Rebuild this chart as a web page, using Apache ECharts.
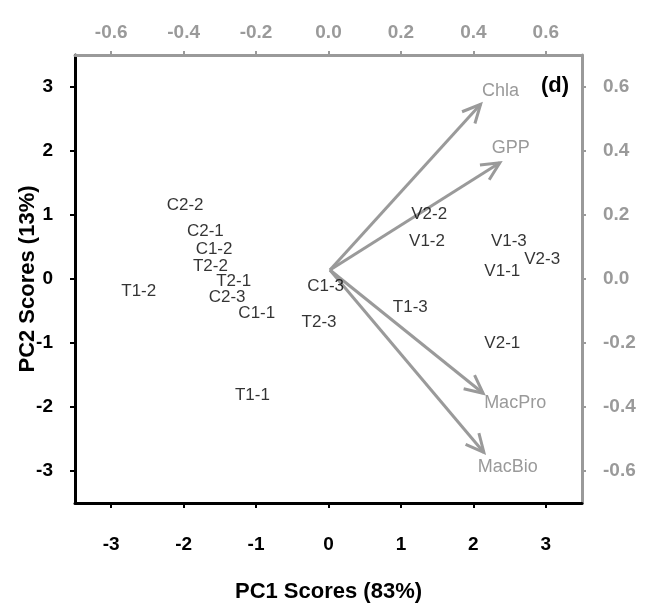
<!DOCTYPE html>
<html>
<head>
<meta charset="utf-8">
<script src="https://cdn.jsdelivr.net/npm/echarts@6/dist/echarts.min.js"></script>
<style>
  html, body { margin: 0; padding: 0; background: #fff; }
  #chart { width: 645px; height: 614px; }
</style>
</head>
<body>
<div id="chart"></div>
<script>
// sample scores (PC1 / PC2)
const sampleNames = ['C2-2', 'C2-1', 'C1-2', 'T2-2', 'T2-1', 'T1-2', 'C2-3', 'C1-1', 'T1-1',
  'V2-2', 'V1-2', 'V1-3', 'V2-3', 'V1-1', 'C1-3', 'T1-3', 'T2-3', 'V2-1']
const pc1Scores = [-1.98, -1.70, -1.58, -1.63, -1.31, -2.62, -1.40, -0.99, -1.05,
  1.39, 1.36, 2.49, 2.95, 2.40, -0.04, 1.13, -0.13, 2.40]
const pc2Scores = [1.15, 0.74, 0.46, 0.20, -0.03, -0.19, -0.28, -0.54, -1.82,
  1.01, 0.59, 0.59, 0.30, 0.12, -0.11, -0.44, -0.67, -1.01]

// variable loadings (top / right axes)
const varNames = ['Chla', 'GPP', 'MacPro', 'MacBio']
const loadPC1 = [0.42, 0.473, 0.427, 0.429]
const loadPC2 = [0.546, 0.363, -0.357, -0.542]
const arrowOrigin = [0.004, 0.028]

// tick labels
const scoreTicks = [-3, -2, -1, 0, 1, 2, 3]
const loadTicks = [-0.6, -0.4, -0.2, 0, 0.2, 0.4, 0.6]

const FONT = '"Liberation Sans", Arial, sans-serif'
const GREY = '#9a9a9a'
// where each variable name sits relative to its arrow tip
const nameOffsets = [[20, -13], [11, -15], [32, 10], [24, 15]]

const chart = echarts.init(document.getElementById('chart'))

function scoreAxis(pos, nameText, margin, gap) {
  return {
    type: 'value',
    position: pos,
    min: -3.5,
    max: 3.5,
    splitLine: { show: false },
    axisLine: { onZero: false, lineStyle: { color: '#000', width: 3 } },
    axisTick: { customValues: scoreTicks, length: 5, lineStyle: { color: '#000', width: 2 } },
    axisLabel: {
      customValues: scoreTicks,
      margin: margin,
      color: '#000',
      fontSize: 19,
      fontWeight: 'bold',
      fontFamily: FONT
    },
    name: nameText,
    nameLocation: 'middle',
    nameGap: gap,
    nameMoveOverlap: false,
    nameTextStyle: { color: '#000', fontSize: 22, fontWeight: 'bold', fontFamily: FONT }
  }
}

function loadAxis(pos, margin) {
  return {
    type: 'value',
    position: pos,
    min: -0.7,
    max: 0.7,
    splitLine: { show: false },
    axisLine: { onZero: false, lineStyle: { color: GREY, width: 3 } },
    axisTick: { customValues: loadTicks, length: 4, lineStyle: { color: GREY, width: 2 } },
    axisLabel: {
      customValues: loadTicks,
      margin: margin,
      color: GREY,
      fontSize: 19,
      fontWeight: 'bold',
      fontFamily: FONT,
      formatter: v => v.toFixed(1)
    }
  }
}

const option = {
  animation: false,
  backgroundColor: '#fff',
  grid: { left: 75, right: 63, top: 55, bottom: 111 },
  xAxis: [scoreAxis('bottom', 'PC1 Scores (83%)', 32, 78), loadAxis('top', 13)],
  yAxis: [scoreAxis('left', 'PC2 Scores (13%)', 22, 36), loadAxis('right', 21)],
  graphic: [{
    type: 'text',
    left: 541,
    top: 75,
    style: { text: '(d)', fill: '#000', font: 'bold 22px ' + FONT }
  }],
  series: [
    {
      type: 'scatter',
      xAxisIndex: 0,
      yAxisIndex: 0,
      silent: true,
      symbolSize: 1,
      itemStyle: { color: 'rgba(0,0,0,0)' },
      data: sampleNames.map((n, i) => [pc1Scores[i], pc2Scores[i], n]),
      label: {
        show: true,
        position: 'inside',
        formatter: p => p.value[2],
        color: '#000',
        fontSize: 17,
        fontFamily: FONT
      }
    },
    {
      type: 'custom',
      xAxisIndex: 1,
      yAxisIndex: 1,
      silent: true,
      data: varNames.map((n, i) => [loadPC1[i], loadPC2[i]]),
      renderItem(params, api) {
        const o = api.coord(arrowOrigin)
        const t = api.coord([api.value(0), api.value(1)])
        const a = Math.atan2(t[1] - o[1], t[0] - o[0])
        const L = 20, s = 0.45
        const p1 = [t[0] - L * Math.cos(a - s), t[1] - L * Math.sin(a - s)]
        const p2 = [t[0] - L * Math.cos(a + s), t[1] - L * Math.sin(a + s)]
        const off = nameOffsets[params.dataIndex]
        return {
          type: 'group',
          children: [
            { type: 'line', shape: { x1: o[0], y1: o[1], x2: t[0], y2: t[1] }, style: { stroke: GREY, lineWidth: 3 } },
            { type: 'polyline', shape: { points: [p1, t, p2] }, style: { stroke: GREY, lineWidth: 3, fill: null } },
            {
              type: 'text',
              x: t[0] + off[0],
              y: t[1] + off[1],
              style: {
                text: varNames[params.dataIndex],
                fill: GREY,
                fontSize: 18,
                fontFamily: FONT,
                align: 'center',
                verticalAlign: 'middle'
              }
            }
          ]
        }
      }
    }
  ]
}

chart.setOption(option)
</script>
</body>
</html>
